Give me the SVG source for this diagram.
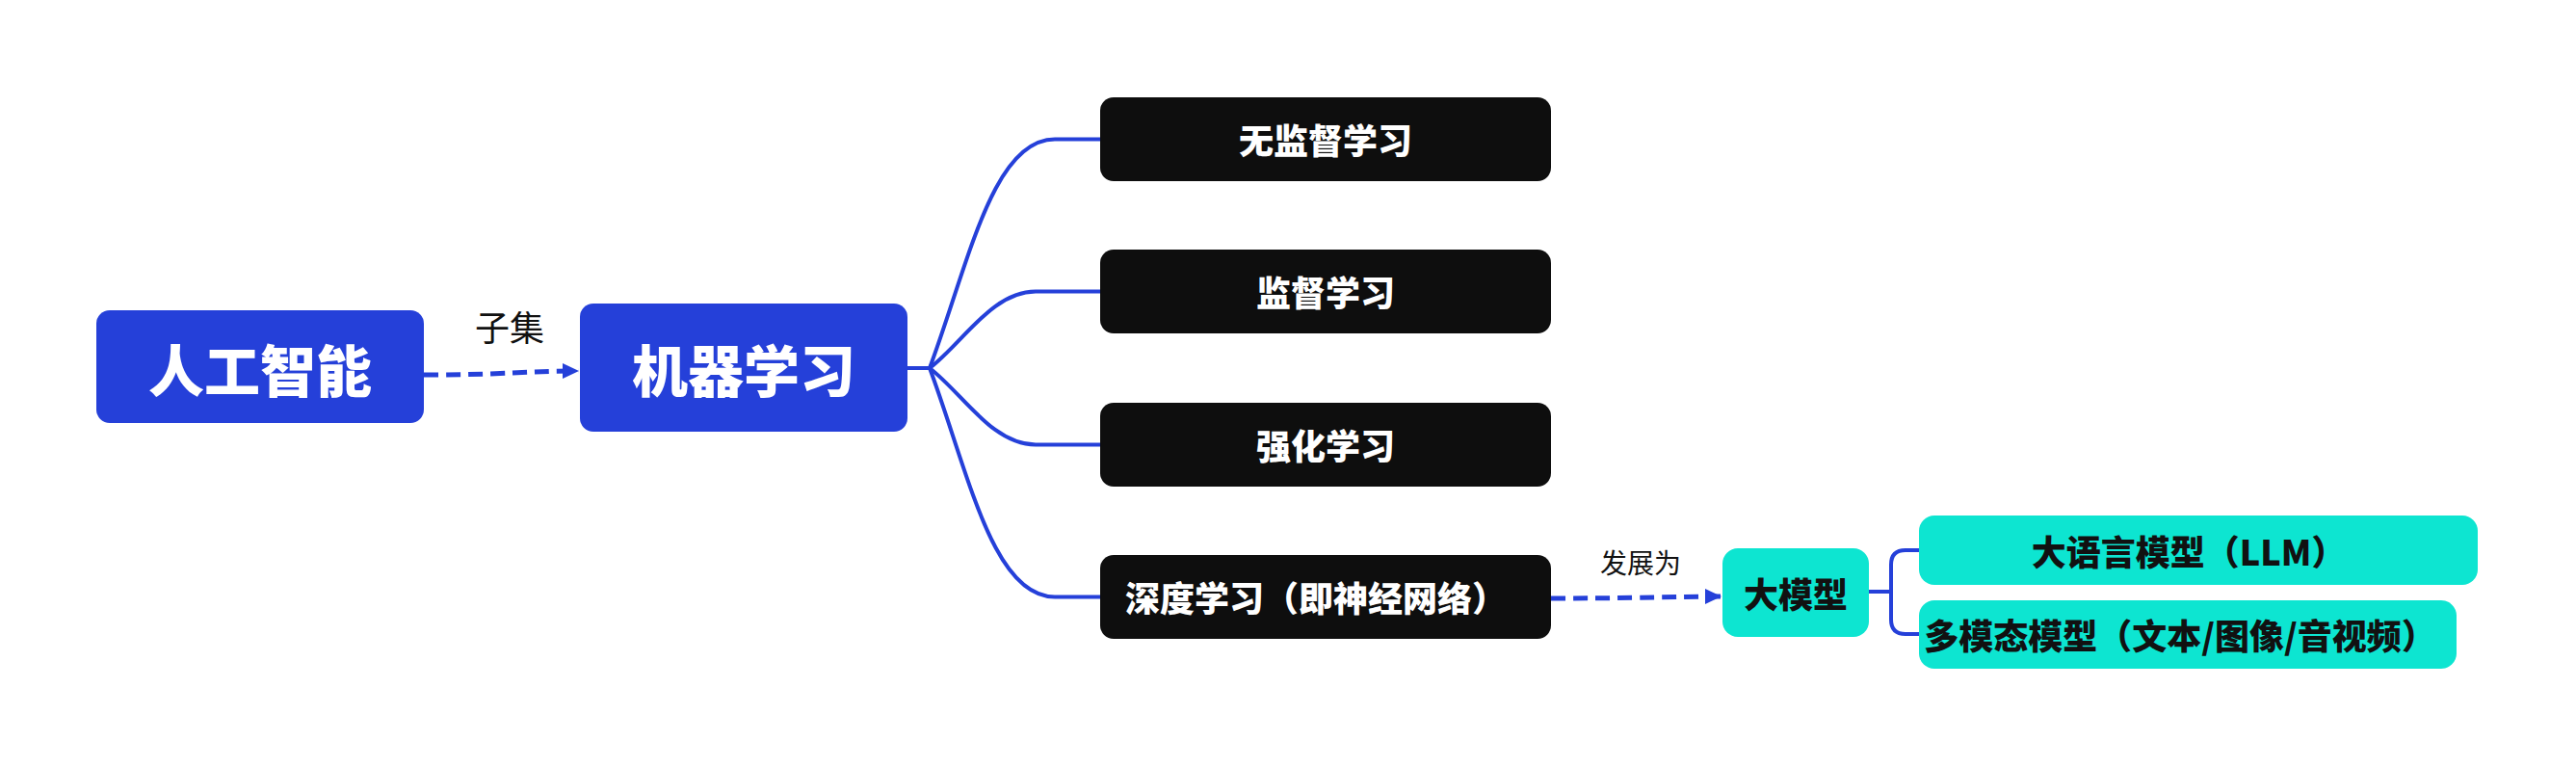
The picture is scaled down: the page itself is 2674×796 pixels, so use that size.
<svg xmlns="http://www.w3.org/2000/svg" width="2674" height="796" viewBox="0 0 2674 796">
<style>
.t{font-family:"Noto Sans CJK SC","Noto Sans",sans-serif;text-anchor:middle}
.big{font-size:58px;font-weight:900;fill:#fff}
.mid{font-size:36px;font-weight:900;fill:#fff}
.dark{font-size:36px;font-weight:900;fill:#111}
.lbl{font-size:36px;font-weight:400;fill:#111}
.lbl2{font-size:28px;font-weight:400;fill:#111}
.blue{fill:#2540D9}
.black{fill:#0E0E0E}
.teal{fill:#0DE5D1}
.ln{fill:none;stroke:#2540D9;stroke-width:4}
.dash{fill:none;stroke:#2540D9;stroke-width:5;stroke-dasharray:15 8}
</style>
<defs>
<marker id="arr" markerUnits="userSpaceOnUse" markerWidth="18" markerHeight="16" refX="17" refY="8" orient="auto">
<path d="M0,0 L17,8 L0,16 Z" fill="#2540D9"/>
</marker>
</defs>
<rect width="2674" height="796" fill="#fff"/>
<g id="connectors">
<path class="dash" d="M440 389 C525 389 545 385 601 385" marker-end="url(#arr)"/>
<path class="ln" d="M942 382 H965"/>
<path class="ln" d="M965 382 C1005 275 1030 144.5 1095 144.5 H1142"/>
<path class="ln" d="M965 382 C1000 355 1030 302.5 1075 302.5 H1142"/>
<path class="ln" d="M965 382 C1000 409 1030 461.5 1075 461.5 H1142"/>
<path class="ln" d="M965 382 C1005 489 1030 619.5 1095 619.5 H1142"/>
<path class="dash" d="M1610 621 C1700 621 1740 619 1787 619" marker-end="url(#arr)"/>
<path class="ln" d="M1940 614 H1963"/>
<path class="ln" d="M1992 571 H1978 Q1963 571 1963 586 V643 Q1963 658 1978 658 H1992"/>
</g>
<g id="label-subset"><text class="t lbl" x="529" y="354">子集</text></g>
<g id="label-develop"><text class="t lbl2" x="1703" y="595">发展为</text></g>
<g id="node-ai">
<rect class="blue" x="100" y="322" width="340" height="117" rx="14"/>
<text class="t big" x="270" y="407">人工智能</text>
</g>
<g id="node-ml">
<rect class="blue" x="602" y="315" width="340" height="133" rx="14"/>
<text class="t big" x="772" y="407">机器学习</text>
</g>
<g id="node-unsup">
<rect class="black" x="1142" y="101" width="468" height="87" rx="14"/>
<text class="t mid" x="1376" y="160">无监督学习</text>
</g>
<g id="node-sup">
<rect class="black" x="1142" y="259" width="468" height="87" rx="14"/>
<text class="t mid" x="1376" y="318">监督学习</text>
</g>
<g id="node-rl">
<rect class="black" x="1142" y="418" width="468" height="87" rx="14"/>
<text class="t mid" x="1376" y="477">强化学习</text>
</g>
<g id="node-dl">
<rect class="black" x="1142" y="576" width="468" height="87" rx="14"/>
<text class="t mid" x="1366" y="635">深度学习（即神经网络）</text>
</g>
<g id="node-bigmodel">
<rect class="teal" x="1788" y="569" width="152" height="92" rx="16"/>
<text class="t dark" x="1864" y="631">大模型</text>
</g>
<g id="node-llm">
<rect class="teal" x="1992" y="535" width="580" height="72" rx="16"/>
<text class="t dark" x="2272" y="587">大语言模型（LLM）</text>
</g>
<g id="node-mm">
<rect class="teal" x="1992" y="623" width="558" height="71" rx="16"/>
<text class="t dark" x="2263" y="674">多模态模型（文本/图像/音视频）</text>
</g>
</svg>
